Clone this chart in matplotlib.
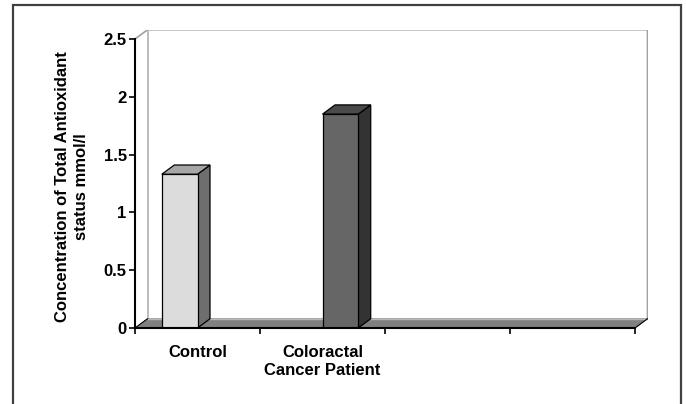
import numpy as np
import matplotlib
matplotlib.use("Agg")
import matplotlib.pyplot as plt
from matplotlib.patches import Polygon, Rectangle

plt.rcParams['font.family'] = ['Liberation Sans', 'DejaVu Sans']
plt.rcParams['font.weight'] = 'bold'

# data
categories = ["Control", "Coloractal\nCancer Patient", "", ""]
control = [1.33, None, None, None]
patient = [None, 1.85, None, None]
y_ticks = [0, 0.5, 1, 1.5, 2, 2.5]
y_tick_labels = ["0", "0.5", "1", "1.5", "2", "2.5"]
y_label_lines = ["Concentration of Total Antioxidant", "status mmol/l"]

fig = plt.figure(figsize=(6.86, 4.04), dpi=100)
W, H = 686, 404
ax = fig.add_axes([135 / W, 1 - 328 / H, 513 / W, 298 / H])

dx, dy = 0.1, 0.08          # depth offset of the 3d look
ymax = 2.5
ax.set_xlim(0, 4 + 0.104)
ax.set_ylim(0, ymax + 0.078)

# back wall and floor
wall = '#A0A0A0'
ax.plot([0, dx, 4 + dx, 4 + dx], [ymax, ymax + dy, ymax + dy, dy], color=wall, lw=1.2, zorder=1)
ax.plot([dx, dx], [dy, ymax + dy], color='#B0B0B0', lw=1.2, zorder=1)
ax.add_patch(Polygon([(0, 0), (4, 0), (4 + dx, dy), (dx, dy)], closed=True,
                     facecolor='#808080', edgecolor='#808080', lw=0.5, zorder=2))
ax.plot([dx, 4 + dx], [dy, dy], color='#B8B8B8', lw=1.0, zorder=2)
ax.plot([4, 4 + dx], [0, dy], color='black', lw=0.8, zorder=2)
ax.plot([0, dx], [0, dy], color='black', lw=0.8, zorder=2)

w = 1 / 3.5
x = np.arange(len(categories))
series = [(control, '#DCDCDC', '#A6A6A6', '#6E6E6E'),
          (patient, '#666666', '#4A4A4A', '#333333')]
for k, (vals, front, top, side) in enumerate(series):
    for i, v in enumerate(vals):
        if v is None:
            continue
        x0 = x[i] + 0.75 * w + k * w
        ax.bar(x0, v, width=w, align='edge', color=front, edgecolor='black', lw=0.9, zorder=4)
        ax.add_patch(Polygon([(x0 + w, 0), (x0 + w + dx, dy), (x0 + w + dx, v + dy), (x0 + w, v)],
                             closed=True, facecolor=side, edgecolor='black', lw=0.9, zorder=3))
        ax.add_patch(Polygon([(x0, v), (x0 + dx, v + dy), (x0 + w + dx, v + dy), (x0 + w, v)],
                             closed=True, facecolor=top, edgecolor='black', lw=0.9, zorder=3))

for s in ['top', 'right']:
    ax.spines[s].set_visible(False)
ax.spines['left'].set_bounds(0, ymax)
ax.spines['bottom'].set_bounds(0, 4)
ax.spines['left'].set_linewidth(1.5)
ax.spines['bottom'].set_linewidth(1.5)
ax.spines['left'].set_zorder(5)
ax.spines['bottom'].set_zorder(5)

ax.set_yticks(y_ticks)
ax.set_yticklabels(y_tick_labels, fontsize=12, fontweight='bold')
ax.set_xticks(np.arange(5))
ax.set_xticklabels([])
ax.set_xticks(x + 0.5, minor=True)
ax.set_xticklabels(categories, minor=True, fontsize=12, fontweight='bold',
                   linespacing=1.3, multialignment='center')
ax.tick_params(axis='x', which='minor', length=0, pad=12)
ax.tick_params(axis='both', which='major', direction='out', length=4, width=1.2)
ax.tick_params(axis='y', pad=2)

for j, line in enumerate(y_label_lines):
    fig.text((63 + 18 * j) / W, 1 - 187 / H, line, rotation=90, ha='center', va='center',
             fontsize=12, fontweight='bold')

# outer frame
fig.add_artist(Rectangle((13 / W, -0.1), 668 / W, 1.1 - 5 / H, transform=fig.transFigure,
                         fill=False, edgecolor='#404040', lw=1.6))

fig.savefig('out.png', dpi=100)
